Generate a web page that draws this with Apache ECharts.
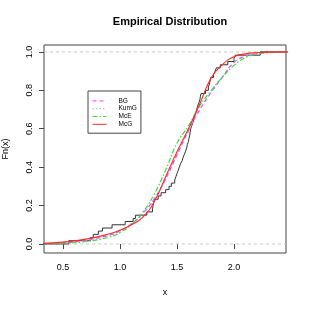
<!DOCTYPE html>
<html><head><meta charset="utf-8">
<script src="https://cdn.jsdelivr.net/npm/echarts@6/dist/echarts.min.js"></script>
<style>html,body{margin:0;padding:0;background:#fff}#c{width:309px;height:309px}</style>
</head><body><div id="c"></div>
<script>
// Empirical CDF step points (sorted sample values and cumulative proportion)
const ecdfX = [0.30,0.55,0.74,0.765,0.81,0.845,0.93,1.045,1.115,1.135,1.235,1.285,1.29,1.295,1.30,1.335,1.36,1.40,1.43,1.45,1.48,1.49,1.50,1.51,1.52,1.53,1.545,1.553,1.565,1.575,1.585,1.59,1.60,1.605,1.612,1.615,1.62,1.63,1.64,1.645,1.655,1.665,1.672,1.68,1.69,1.70,1.705,1.71,1.75,1.775,1.785,1.79,1.795,1.82,1.835,1.845,1.88,1.945,2.0,2.01,2.23,2.50];
const ecdfY = [0,0.017,0.033,0.05,0.067,0.083,0.1,0.117,0.133,0.15,0.167,0.183,0.2,0.217,0.233,0.25,0.267,0.283,0.3,0.317,0.333,0.35,0.367,0.383,0.4,0.417,0.433,0.45,0.467,0.483,0.5,0.517,0.533,0.55,0.567,0.583,0.6,0.617,0.633,0.65,0.667,0.683,0.7,0.717,0.733,0.75,0.767,0.783,0.8,0.817,0.833,0.85,0.867,0.883,0.9,0.917,0.933,0.95,0.967,0.983,1.0,1.0];
// Fitted CDFs
const curveX = [0.30,0.5,0.7,0.9,1.0,1.1,1.2,1.3,1.4,1.5,1.6,1.7,1.8,1.9,2.0,2.1,2.2,2.3,2.5];
const bgY   = [0.002,0.006,0.020,0.045,0.068,0.105,0.160,0.235,0.340,0.465,0.590,0.700,0.790,0.870,0.945,0.978,0.991,0.997,1.0];
const kumgY = [0.002,0.006,0.019,0.044,0.067,0.104,0.158,0.232,0.337,0.462,0.588,0.700,0.792,0.872,0.944,0.977,0.990,0.997,1.0];
const mceY  = [0.001,0.004,0.013,0.035,0.060,0.100,0.165,0.260,0.385,0.525,0.615,0.720,0.800,0.870,0.930,0.970,0.988,0.996,1.0];
const mcgY  = [0.003,0.010,0.025,0.052,0.072,0.100,0.140,0.220,0.350,0.480,0.600,0.730,0.865,0.935,0.975,0.990,0.996,0.999,1.0];
const refLineY = [0, 1];
const xTicks = [0.5, 1.0, 1.5, 2.0];
const yTicks = [0, 0.2, 0.4, 0.6, 0.8, 1.0];

const zip = (xs, ys) => xs.map((x, i) => [x, ys[i]]);
const font = 'Liberation Sans';
const chart = echarts.init(document.getElementById('c'), null, {renderer: 'canvas'});
const curve = (name, ys, color, type, width) => ({
  name, type: 'line', data: zip(curveX, ys), smooth: true, symbol: 'none', clip: true,
  lineStyle: {color, type, width}, itemStyle: {color}, z: 3
});
chart.setOption({
  animation: false,
  backgroundColor: '#fff',
  title: {
    text: 'Empirical Distribution', left: 165, top: 11, textAlign: 'center',
    textStyle: {fontFamily: font, fontSize: 11, fontWeight: 'bold', color: '#000'}
  },
  grid: {left: 44, right: 23, top: 45, bottom: 56, containLabel: false, outerBoundsMode: 'none',
    show: true, borderColor: '#444', borderWidth: 1, backgroundColor: 'transparent'},
  xAxis: {
    type: 'value', min: 0.333, max: 2.456,
    name: 'x', nameLocation: 'middle', nameGap: 35,
    nameTextStyle: {fontFamily: font, fontSize: 9, color: '#000'},
    axisLine: {show: false},
    axisTick: {show: true, length: 5, lineStyle: {color: '#444'}, customValues: xTicks},
    axisLabel: {fontFamily: font, fontSize: 9, color: '#000', margin: 10, customValues: xTicks,
      formatter: v => v.toFixed(1)},
    splitLine: {show: false}
  },
  yAxis: {
    type: 'value', min: -0.047, max: 1.036,
    name: 'Fn(x)', nameLocation: 'middle', nameGap: 34, nameRotate: 90,
    nameTextStyle: {fontFamily: font, fontSize: 9, color: '#000'},
    axisLine: {show: false},
    axisTick: {show: true, length: 5, lineStyle: {color: '#444'}, customValues: yTicks},
    axisLabel: {fontFamily: font, fontSize: 9, color: '#000', margin: 10, rotate: 90, customValues: yTicks,
      formatter: v => v.toFixed(1)},
    splitLine: {show: false}
  },
  legend: {
    orient: 'vertical', left: 88, top: 91,
    data: ['BG', 'KumG', 'McE', 'McG'],
    itemWidth: 14, itemHeight: 7.8, itemGap: 0,
    itemStyle: {opacity: 0},
    lineStyle: {width: 1},
    padding: [6, 4, 5, 4],
    borderColor: '#444', borderWidth: 1,
    textStyle: {fontFamily: font, fontSize: 6.5, color: '#000', padding: [0, 0, 0, 7], lineHeight: 7.8}
  },
  series: [
    {name: 'ref0', type: 'line', data: [[0.333, refLineY[0]], [2.456, refLineY[0]]], symbol: 'none', silent: true,
      lineStyle: {color: '#c8c8c8', type: [3, 3], width: 1}, z: 1},
    {name: 'ref1', type: 'line', data: [[0.333, refLineY[1]], [2.456, refLineY[1]]], symbol: 'none', silent: true,
      lineStyle: {color: '#c8c8c8', type: [3, 3], width: 1}, z: 1},
    {name: 'ECDF', type: 'line', step: 'end', data: zip(ecdfX, ecdfY), symbol: 'none', clip: true,
      lineStyle: {color: '#333', width: 1}, z: 2},
    curve('BG', bgY, '#ff33ff', [4, 3], 1.15),
    curve('KumG', kumgY, '#9fa6ff', [1.5, 2], 1.15),
    curve('McE', mceY, '#33dd33', [5, 2, 1.5, 2], 1.15),
    curve('McG', mcgY, '#ff2a2a', 'solid', 1.15)
  ]
});
</script></body></html>
